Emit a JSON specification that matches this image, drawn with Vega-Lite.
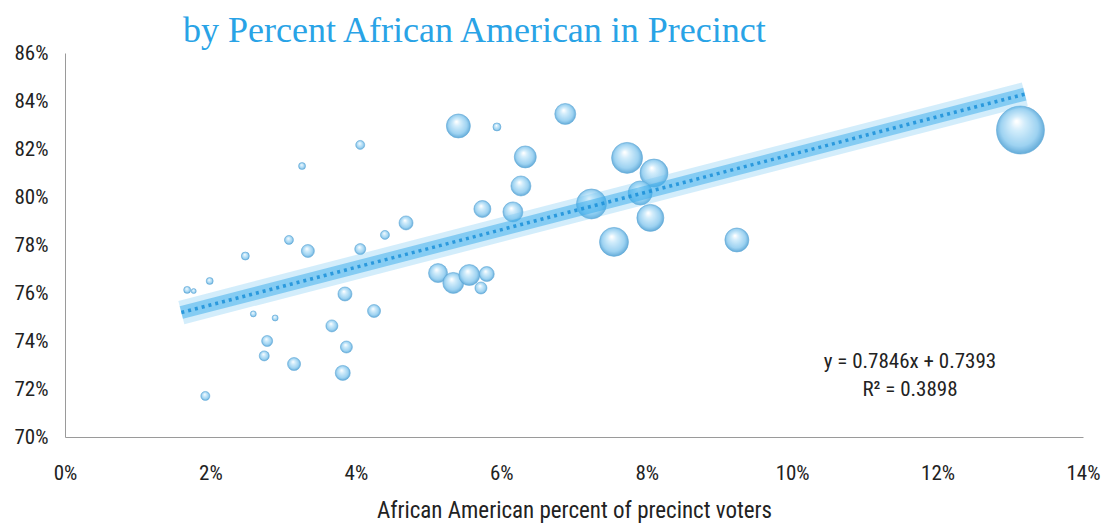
{
  "$schema": "https://vega.github.io/schema/vega-lite/v6.json",
  "width": 1018,
  "height": 384,
  "autosize": {"type": "none"},
  "padding": {"left": 65, "top": 53, "right": 28, "bottom": 92},
  "background": "#ffffff",
  "title": {
    "text": "by Percent African American in Precinct",
    "anchor": "start",
    "frame": "group",
    "dx": 118,
    "dy": 46,
    "offset": 10,
    "baseline": "alphabetic",
    "font": "Liberation Serif",
    "fontSize": 36,
    "fontWeight": "normal",
    "color": "#29a3e6"
  },
  "config": {
    "view": {"stroke": null},
    "axis": {
      "grid": false,
      "ticks": false,
      "labelFlush": false,
      "labelFont": "Liberation Sans Narrow, Roboto Condensed, Roboto",
      "labelFontSize": 21,
      "labelColor": "#222222",
      "domainColor": "#9a9a9a",
      "domainWidth": 1,
      "titleFont": "Liberation Sans Narrow, Roboto Condensed, Roboto",
      "titleFontWeight": "normal",
      "titleColor": "#222222"
    }
  },
  "datasets": {
    "precincts": [
      {"pct_aa": 0.0168, "turnout": 0.7613, "voters": 49},
      {"pct_aa": 0.0177, "turnout": 0.7608, "voters": 25},
      {"pct_aa": 0.0199, "turnout": 0.7650, "voters": 49},
      {"pct_aa": 0.0193, "turnout": 0.7171, "voters": 81},
      {"pct_aa": 0.0248, "turnout": 0.7754, "voters": 64},
      {"pct_aa": 0.0259, "turnout": 0.7513, "voters": 36},
      {"pct_aa": 0.0278, "turnout": 0.7400, "voters": 121},
      {"pct_aa": 0.0274, "turnout": 0.7338, "voters": 100},
      {"pct_aa": 0.0289, "turnout": 0.7496, "voters": 36},
      {"pct_aa": 0.0308, "turnout": 0.7821, "voters": 81},
      {"pct_aa": 0.0315, "turnout": 0.7304, "voters": 169},
      {"pct_aa": 0.0334, "turnout": 0.7775, "voters": 169},
      {"pct_aa": 0.0326, "turnout": 0.8129, "voters": 49},
      {"pct_aa": 0.0367, "turnout": 0.7463, "voters": 144},
      {"pct_aa": 0.0385, "turnout": 0.7596, "voters": 196},
      {"pct_aa": 0.0387, "turnout": 0.7375, "voters": 144},
      {"pct_aa": 0.0382, "turnout": 0.7267, "voters": 225},
      {"pct_aa": 0.0406, "turnout": 0.8217, "voters": 81},
      {"pct_aa": 0.0406, "turnout": 0.7783, "voters": 121},
      {"pct_aa": 0.0425, "turnout": 0.7525, "voters": 169},
      {"pct_aa": 0.0440, "turnout": 0.7842, "voters": 81},
      {"pct_aa": 0.0469, "turnout": 0.7892, "voters": 196},
      {"pct_aa": 0.0541, "turnout": 0.8296, "voters": 576},
      {"pct_aa": 0.0594, "turnout": 0.8292, "voters": 64},
      {"pct_aa": 0.0688, "turnout": 0.8346, "voters": 441},
      {"pct_aa": 0.0633, "turnout": 0.8167, "voters": 484},
      {"pct_aa": 0.0627, "turnout": 0.8046, "voters": 400},
      {"pct_aa": 0.0574, "turnout": 0.7950, "voters": 289},
      {"pct_aa": 0.0616, "turnout": 0.7938, "voters": 400},
      {"pct_aa": 0.0513, "turnout": 0.7683, "voters": 361},
      {"pct_aa": 0.0534, "turnout": 0.7642, "voters": 441},
      {"pct_aa": 0.0556, "turnout": 0.7675, "voters": 441},
      {"pct_aa": 0.0580, "turnout": 0.7679, "voters": 225},
      {"pct_aa": 0.0572, "turnout": 0.7621, "voters": 144},
      {"pct_aa": 0.0724, "turnout": 0.7971, "voters": 900},
      {"pct_aa": 0.0773, "turnout": 0.8163, "voters": 961},
      {"pct_aa": 0.0810, "turnout": 0.8100, "voters": 784},
      {"pct_aa": 0.0791, "turnout": 0.8017, "voters": 576},
      {"pct_aa": 0.0805, "turnout": 0.7913, "voters": 729},
      {"pct_aa": 0.0755, "turnout": 0.7813, "voters": 841},
      {"pct_aa": 0.0924, "turnout": 0.7821, "voters": 576},
      {"pct_aa": 0.1314, "turnout": 0.8279, "voters": 2304}
    ],
    "trend": [
      {"pct_aa": 0.016, "turnout": 0.751854},
      {"pct_aa": 0.132, "turnout": 0.842867}
    ],
    "fit": [
      {"pct_aa": 0.1162, "turnout": 0.7313, "label": "y = 0.7846x + 0.7393\nR² = 0.3898"}
    ]
  },
  "encoding": {
    "x": {
      "field": "pct_aa",
      "type": "quantitative",
      "scale": {"domain": [0, 0.14], "nice": false, "zero": false},
      "axis": {
        "values": [0, 0.02, 0.04, 0.06, 0.08, 0.1, 0.12, 0.14],
        "format": ".0%",
        "labelPadding": 25,
        "title": "African American percent of precinct voters",
        "titleFontSize": 23,
        "titlePadding": 16
      }
    },
    "y": {
      "field": "turnout",
      "type": "quantitative",
      "scale": {"domain": [0.7, 0.86], "nice": false, "zero": false},
      "axis": {
        "values": [0.7, 0.72, 0.74, 0.76, 0.78, 0.8, 0.82, 0.84, 0.86],
        "format": ".0%",
        "labelPadding": 17,
        "title": null
      }
    }
  },
  "layer": [
    {
      "data": {"name": "precincts"},
      "mark": {
        "type": "point",
        "shape": "circle",
        "filled": true,
        "opacity": 0.95,
        "stroke": "#5aa6d6",
        "strokeWidth": 0.6,
        "color": {
          "gradient": "radial",
          "x1": 0.42, "y1": 0.32, "r1": 0.02,
          "x2": 0.5, "y2": 0.5, "r2": 0.55,
          "stops": [
            {"offset": 0, "color": "#ffffff"},
            {"offset": 0.25, "color": "#d0ecfb"},
            {"offset": 0.7, "color": "#98d0f1"},
            {"offset": 1, "color": "#4a9bcf"}
          ]
        }
      },
      "encoding": {
        "size": {
          "field": "voters",
          "type": "quantitative",
          "scale": {"domain": [0, 2304], "range": [0, 2304], "zero": true},
          "legend": null
        }
      }
    },
    {
      "data": {"name": "trend"},
      "mark": {"type": "line", "color": "#6cc3f2", "strokeWidth": 24, "opacity": 0.3, "strokeCap": "butt"},
      "encoding": {}
    },
    {
      "data": {"name": "trend"},
      "mark": {"type": "line", "color": "#38acec", "strokeWidth": 13, "opacity": 0.5, "strokeCap": "butt"},
      "encoding": {}
    },
    {
      "data": {"name": "trend"},
      "mark": {"type": "line", "color": "#1a8fd8", "strokeWidth": 3.5, "strokeDash": [3, 4], "opacity": 0.85},
      "encoding": {}
    },
    {
      "data": {"name": "fit"},
      "mark": {
        "type": "text",
        "lineBreak": "\n",
        "lineHeight": 28,
        "align": "center",
        "baseline": "middle",
        "font": "Liberation Sans Narrow, Roboto Condensed, Roboto",
        "fontSize": 21,
        "color": "#222222"
      },
      "encoding": {"text": {"field": "label"}}
    }
  ]
}
